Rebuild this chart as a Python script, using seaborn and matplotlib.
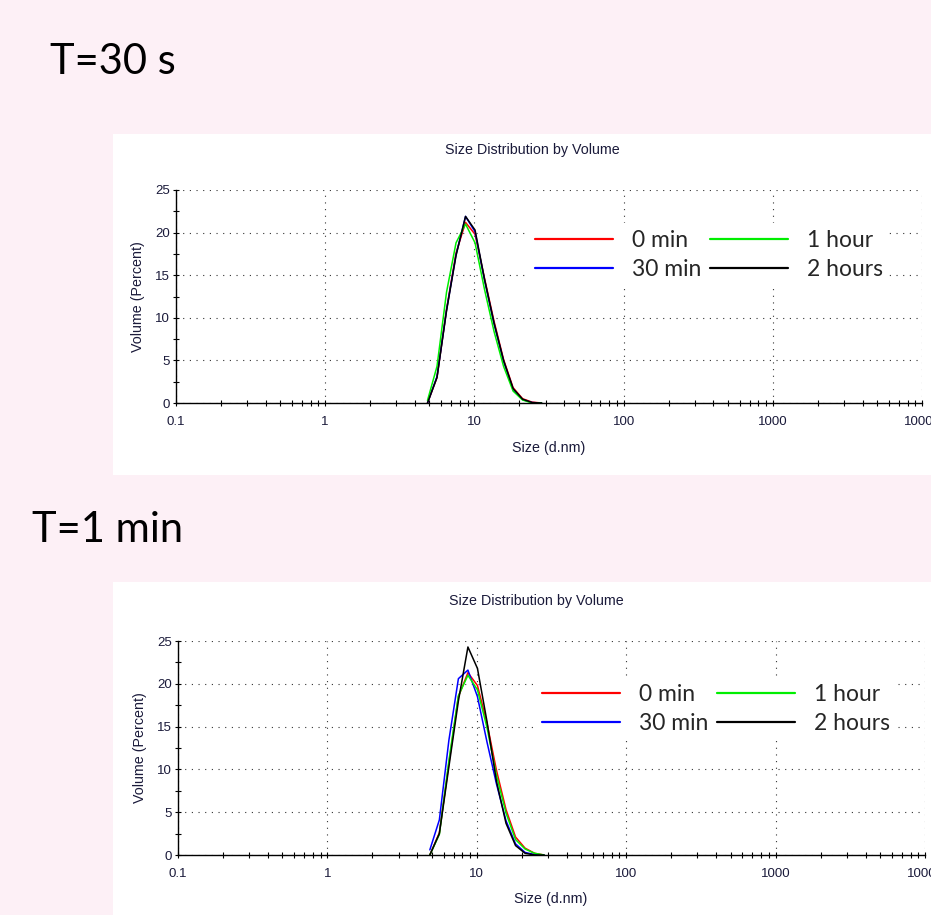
import pandas as pd
import matplotlib.pyplot as plt
import seaborn as sns
from matplotlib.patches import Rectangle
from matplotlib.ticker import LogLocator, MultipleLocator, NullFormatter

# DLS size bins (d.nm) and volume distributions
sizes = [4.849, 5.615, 6.503, 7.531, 8.721, 10.10, 11.70, 13.54, 15.69, 18.17, 21.04, 24.36, 28.21]
series = ["0 min", "30 min", "1 hour", "2 hours"]
colors = {"0 min": "#ff0000", "30 min": "#0000ff", "1 hour": "#00ee00", "2 hours": "#000000"}

# T = 30 s
t30_0min = [0.0, 3.0, 11.0, 17.6, 21.2, 19.8, 14.6, 9.6, 5.1, 1.8, 0.5, 0.1, 0.0]
t30_30min = [0.0, 3.1, 10.9, 17.4, 21.9, 20.1, 14.4, 9.3, 4.9, 1.6, 0.4, 0.05, 0.0]
t30_1hour = [0.3, 4.3, 13.0, 18.8, 21.0, 18.8, 13.3, 8.4, 4.3, 1.4, 0.35, 0.0, 0.0]
t30_2hours = [0.0, 3.0, 10.8, 17.3, 21.9, 20.3, 14.5, 9.4, 5.0, 1.7, 0.45, 0.05, 0.0]

# T = 1 min
t1_0min = [0.0, 2.6, 10.7, 18.5, 21.3, 19.8, 15.4, 9.9, 5.3, 2.1, 0.8, 0.2, 0.0]
t1_30min = [0.6, 4.1, 13.4, 20.6, 21.6, 18.5, 13.2, 8.3, 4.0, 1.3, 0.3, 0.05, 0.0]
t1_1hour = [0.0, 2.4, 11.0, 18.6, 21.0, 19.3, 14.9, 9.3, 4.9, 1.8, 0.7, 0.2, 0.0]
t1_2hours = [0.0, 2.5, 10.3, 18.0, 24.3, 21.8, 15.6, 8.6, 3.7, 1.1, 0.2, 0.0, 0.0]

xticks = [0.1, 1, 10, 100, 1000, 10000]
xticklabels = ["0.1", "1", "10", "100", "1000", "10000"]


def long_table(*cols):
    frames = []
    for name, vals in zip(series, cols):
        frames.append(pd.DataFrame({"size": sizes, "volume": vals, "time": name}))
    return pd.concat(frames, ignore_index=True)


df30 = long_table(t30_0min, t30_30min, t30_1hour, t30_2hours)
df1 = long_table(t1_0min, t1_30min, t1_1hour, t1_2hours)

sns.set_style("white")
plt.rcParams["font.family"] = ["Liberation Sans", "DejaVu Sans"]

W, H = 931, 915
fig = plt.figure(figsize=(W / 100, H / 100), dpi=100, facecolor="#fdf0f6")


def fx(x):
    return x / W


def fy(y):
    return 1 - y / H


# white panels behind the charts
fig.add_artist(Rectangle((fx(113), fy(475)), 1, (475 - 134) / H, transform=fig.transFigure,
                         facecolor="white", edgecolor="none", zorder=-1))
fig.add_artist(Rectangle((fx(113), 0), 1, fy(582), transform=fig.transFigure,
                         facecolor="white", edgecolor="none", zorder=-1))

txt = "#1a1a3a"


def draw_panel(df, box, title_xy, xlabel_xy, ylabel_xy, leg_xy):
    left, top, right, bottom = box
    ax = fig.add_axes([fx(left), fy(bottom), (right - left) / W, (bottom - top) / H])
    sns.lineplot(data=df, x="size", y="volume", hue="time", hue_order=series,
                 palette=colors, linewidth=1.1, ax=ax, zorder=3)
    ax.set_xscale("log")
    ax.set_xlim(0.1, 10000)
    ax.set_ylim(0, 25)
    ax.set_xticks(xticks)
    ax.set_xticklabels(xticklabels)
    ax.xaxis.set_minor_locator(LogLocator(base=10, subs=range(2, 10), numticks=20))
    ax.xaxis.set_minor_formatter(NullFormatter())
    ax.yaxis.set_major_locator(MultipleLocator(5))
    ax.yaxis.set_minor_locator(MultipleLocator(2.5))
    ax.tick_params(which="both", bottom=True, left=True, direction="inout", length=5,
                   width=0.8, color="black", labelsize=9.5, labelcolor=txt)
    ax.tick_params(axis="x", pad=7)
    ax.tick_params(axis="y", pad=2)
    ax.grid(True, which="major", color="#333333", linestyle=(0, (1, 5)), linewidth=0.8)
    for s in ["top", "right"]:
        ax.spines[s].set_visible(False)
    for s in ["left", "bottom"]:
        ax.spines[s].set_color("black")
        ax.spines[s].set_linewidth(1.0)
    ax.set_xlabel("")
    ax.set_ylabel("")
    fig.text(fx(title_xy[0]), fy(title_xy[1]), "Size Distribution by Volume",
             ha="center", va="center", fontsize=10.3, color=txt)
    fig.text(fx(xlabel_xy[0]), fy(xlabel_xy[1]), "Size (d.nm)",
             ha="center", va="center", fontsize=10.3, color=txt)
    fig.text(fx(ylabel_xy[0]), fy(ylabel_xy[1]), "Volume (Percent)", rotation=90,
             ha="center", va="center", fontsize=10.3, color=txt)
    lx = (leg_xy[0] - left) / (right - left)
    ly = (bottom - leg_xy[1]) / (bottom - top)
    leg = ax.legend(title=None, ncol=2, loc="center", bbox_to_anchor=(lx, ly),
                    frameon=True, facecolor="white", edgecolor="none", framealpha=1,
                    fancybox=False, handlelength=3.4, handletextpad=0.8,
                    columnspacing=0.4, labelspacing=0.35, borderpad=0.3,
                    prop={"family": "Lato", "size": 16.5})
    for line in leg.get_lines():
        line.set_linewidth(1.6)
    return ax


draw_panel(df30, (176, 190, 922, 403), (532, 150), (549, 448), (138, 297), (709, 255))
draw_panel(df1, (178, 641, 925, 855), (536, 601), (551, 899), (140, 748), (716, 709))

fig.text(fx(50), fy(62), "T=30 s", ha="left", va="center", fontsize=30,
         family="Lato", color="black")
fig.text(fx(32), fy(530), "T=1 min", ha="left", va="center", fontsize=30,
         family="Lato", color="black")

fig.savefig("out.png", dpi=100, facecolor=fig.get_facecolor())
